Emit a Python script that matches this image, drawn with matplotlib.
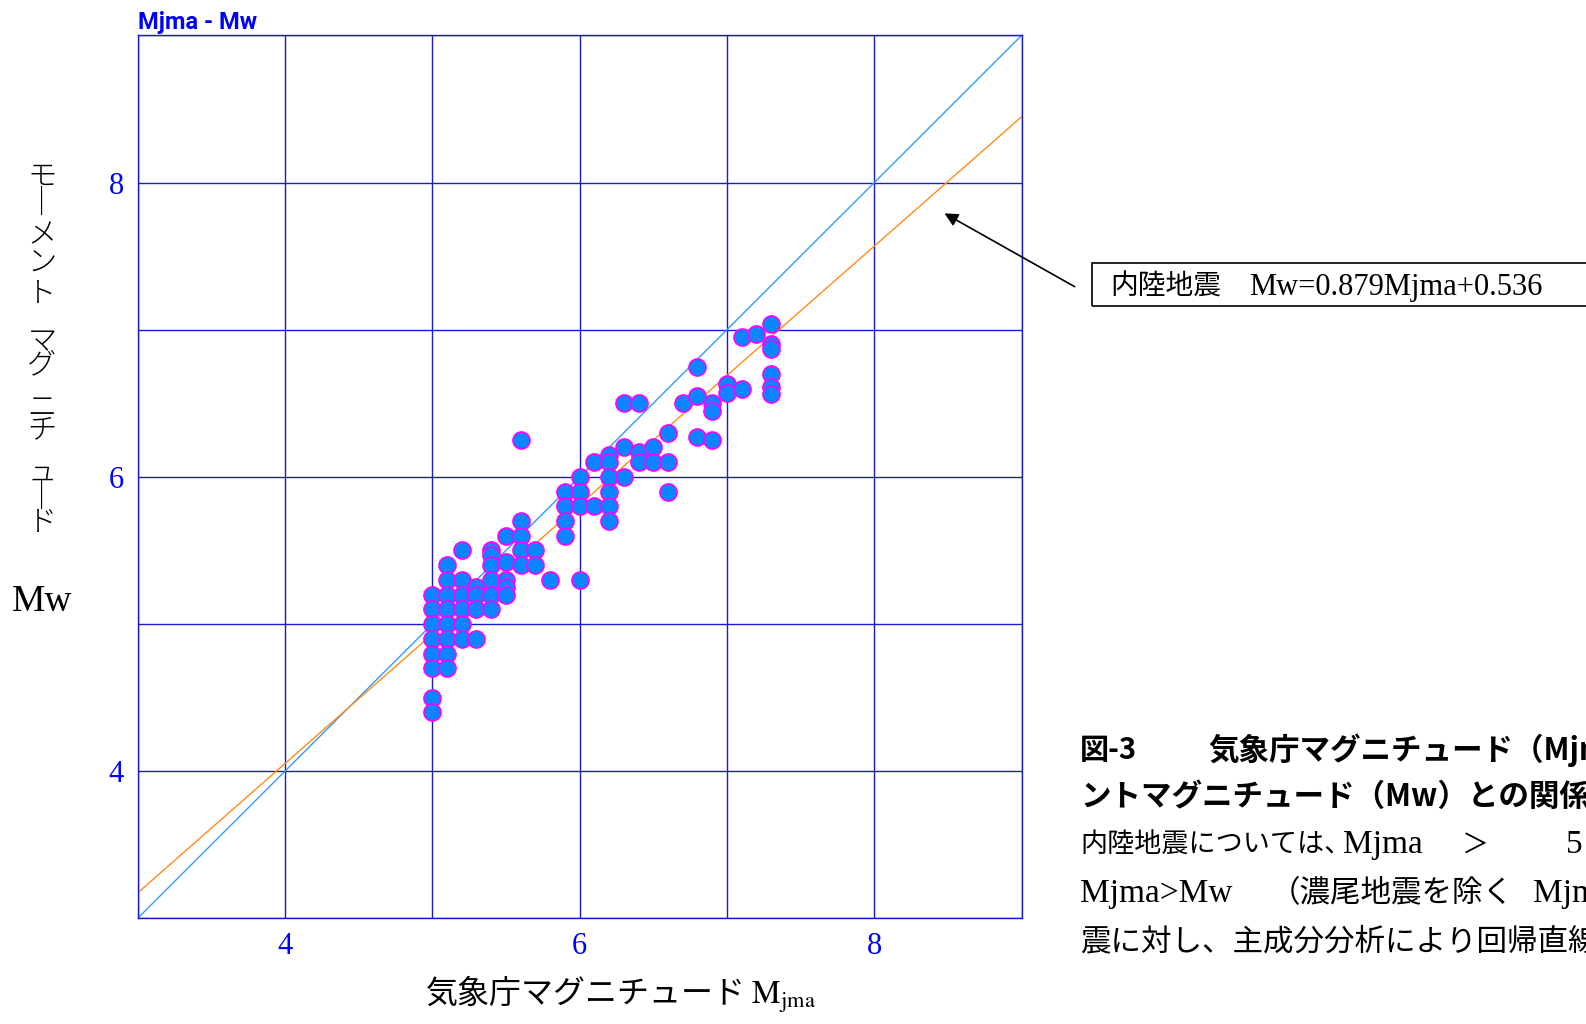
import matplotlib
matplotlib.use('Agg')
import matplotlib.pyplot as plt
from matplotlib.patches import Rectangle
import numpy as np

plt.rcParams['mathtext.fontset'] = 'stix'

# data (Mjma, Mw)
mjma = [5.0, 5.0, 5.0, 5.0, 5.0, 5.0, 5.0, 5.0,
        5.1, 5.1, 5.1, 5.1, 5.1, 5.1, 5.1, 5.1,
        5.2, 5.2, 5.2, 5.2, 5.2, 5.2,
        5.3, 5.3, 5.3, 5.3,
        5.4, 5.4, 5.4, 5.4, 5.4, 5.4,
        5.5, 5.5, 5.5, 5.5, 5.5,
        5.6, 5.6, 5.6, 5.6, 5.6,
        5.7, 5.7,
        5.8,
        5.9, 5.9, 5.9, 5.9,
        6.0, 6.0, 6.0, 6.0,
        6.1, 6.1,
        6.2, 6.2, 6.2, 6.2, 6.2, 6.2,
        6.3, 6.3, 6.3,
        6.4, 6.4, 6.4,
        6.5, 6.5,
        6.6, 6.6, 6.6,
        6.7,
        6.8, 6.8, 6.8,
        6.9, 6.9, 6.9,
        7.0, 7.0,
        7.1, 7.1,
        7.2,
        7.3, 7.3, 7.3, 7.3, 7.3, 7.3]
mw = [5.2, 5.1, 5.0, 4.9, 4.8, 4.7, 4.5, 4.4,
      5.4, 5.3, 5.2, 5.1, 5.0, 4.9, 4.8, 4.7,
      5.5, 5.3, 5.2, 5.1, 5.0, 4.9,
      5.25, 5.2, 5.1, 4.9,
      5.5, 5.47, 5.4, 5.3, 5.2, 5.1,
      5.6, 5.42, 5.3, 5.25, 5.2,
      5.7, 5.6, 5.5, 5.4, 6.25,
      5.5, 5.4,
      5.3,
      5.9, 5.8, 5.7, 5.6,
      6.0, 5.9, 5.8, 5.3,
      6.1, 5.8,
      6.15, 6.1, 6.0, 5.9, 5.8, 5.7,
      6.5, 6.2, 6.0,
      6.5, 6.17, 6.1,
      6.2, 6.1,
      6.3, 6.1, 5.9,
      6.5,
      6.75, 6.55, 6.27,
      6.5, 6.45, 6.25,
      6.63, 6.57,
      6.95, 6.6,
      6.97,
      7.04, 6.9, 6.87, 6.7, 6.61, 6.56]

slope = 0.879
intercept = 0.536
ticks = [4, 6, 8]
grid_lines = [3, 4, 5, 6, 7, 8, 9]

ylabel_chars = ['モ', 'ー', 'メ', 'ン', 'ト', 'マ', 'グ', 'ニ', 'チ', 'ュ', 'ー', 'ド']
ylabel_pos = [177, 204, 235, 263, 293, 342, 365, 408, 430, 472, 498, 523]

W, H = 1586, 1024
CJK = ['Noto Sans CJK JP']
SERIF = ['Liberation Serif', 'Noto Sans CJK JP']

# caption segments: (text, x px, y px, size, weight, family)
caption = [
    ('図-3', 1080, 750, 21, 'bold', CJK),
    ('気象庁マグニチュード（Mjma）とモーメ', 1208, 750, 22, 'bold', CJK),
    ('ントマグニチュード（Mw）との関係', 1080, 797, 22, 'bold', CJK),
    ('内陸地震については、', 1080, 845, 19.5, 'normal', CJK),
    ('Mjma', 1343, 845, 24, 'normal', SERIF),
    ('＞', 1462, 845, 19.5, 'normal', CJK),
    ('5', 1566, 845, 24, 'normal', SERIF),
    ('Mjma>Mw', 1080, 894, 24, 'normal', SERIF),
    ('（濃尾地震を除く', 1270, 894, 22, 'normal', CJK),
    ('Mjma', 1533, 894, 24, 'normal', SERIF),
    ('震に対し、主成分分析により回帰直線', 1080, 942, 22, 'normal', CJK),
]

fig = plt.figure(figsize=(W / 100, H / 100), dpi=100)
ax = fig.add_axes([137.6 / W, 1 - 918.4 / H, (1021.6 - 137.6) / W, (918.4 - 35.4) / H])

gc = '#1a1acc'
xx = np.array([3, 9])
ax.plot(xx, xx, color='#3399ff', lw=1, zorder=2)
ax.plot(xx, slope * xx + intercept, color='#ff8c1a', lw=1, zorder=2)
ax.scatter(mjma, mw, s=150, c='#0a84ff', edgecolors='#ff00ff', linewidths=1.2, zorder=3)

ax.set_xlim(3, 9)
ax.set_ylim(3, 9)
ax.set_xticks(ticks)
ax.set_yticks(ticks)
ax.set_xticks(grid_lines, minor=True)
ax.set_yticks(grid_lines, minor=True)
ax.grid(True, which='both', color=gc, lw=1, zorder=1)
ax.tick_params(which='both', length=0, colors='#0000ff', labelsize=22, pad=10)
for lab in ax.get_xticklabels() + ax.get_yticklabels():
    lab.set_family('Liberation Serif')
for s in ax.spines.values():
    s.set_color(gc)
    s.set_linewidth(1)

ax.text(0, 1.002, 'Mjma - Mw', transform=ax.transAxes, ha='left', va='bottom',
        color='#0000ff', fontsize=17, fontweight='bold', family=['Roboto'])

# x label
fig.text(621 / W, 1 - 994 / H, r'気象庁マグニチュード $\mathrm{M}_{\mathrm{jma}}$',
         ha='center', va='center', fontsize=23, family=CJK)

# vertical y label (the long-vowel marks stand upright)
for ch, py in zip(ylabel_chars, ylabel_pos):
    glyph = '｜' if ch == 'ー' else ch
    fig.text(42 / W, 1 - py / H, glyph, ha='center', va='center', fontsize=21,
             family=CJK, fontweight='light')
fig.text(42 / W, 1 - 602 / H, 'Mw', ha='center', va='center', fontsize=27,
         family=['Liberation Serif'])

# annotation box
fig.patches.append(Rectangle((1092 / W, 1 - 306 / H), 600 / W, 43 / H,
                             transform=fig.transFigure, fill=False,
                             edgecolor='black', lw=1.2))
fig.text(1110 / W, 1 - 287 / H, '内陸地震', ha='left', va='center',
         fontsize=20, family=CJK)
fig.text(1249 / W, 1 - 288 / H, 'Mw=0.879Mjma+0.536', ha='left', va='center',
         fontsize=22, family=SERIF)
ax.annotate('', xy=(8.46, 7.8), xytext=(1077 / W, 1 - 288 / H),
            textcoords='figure fraction',
            arrowprops=dict(arrowstyle='-|>', color='black', lw=1.2,
                            mutation_scale=20), annotation_clip=False)

# caption (cut off at the right edge, as in the source)
for text, px, py, size, wt, fam in caption:
    fig.text(px / W, 1 - py / H, text, ha='left', va='center', fontsize=size,
             fontweight=wt, family=fam)

fig.savefig('out.png', dpi=100)
